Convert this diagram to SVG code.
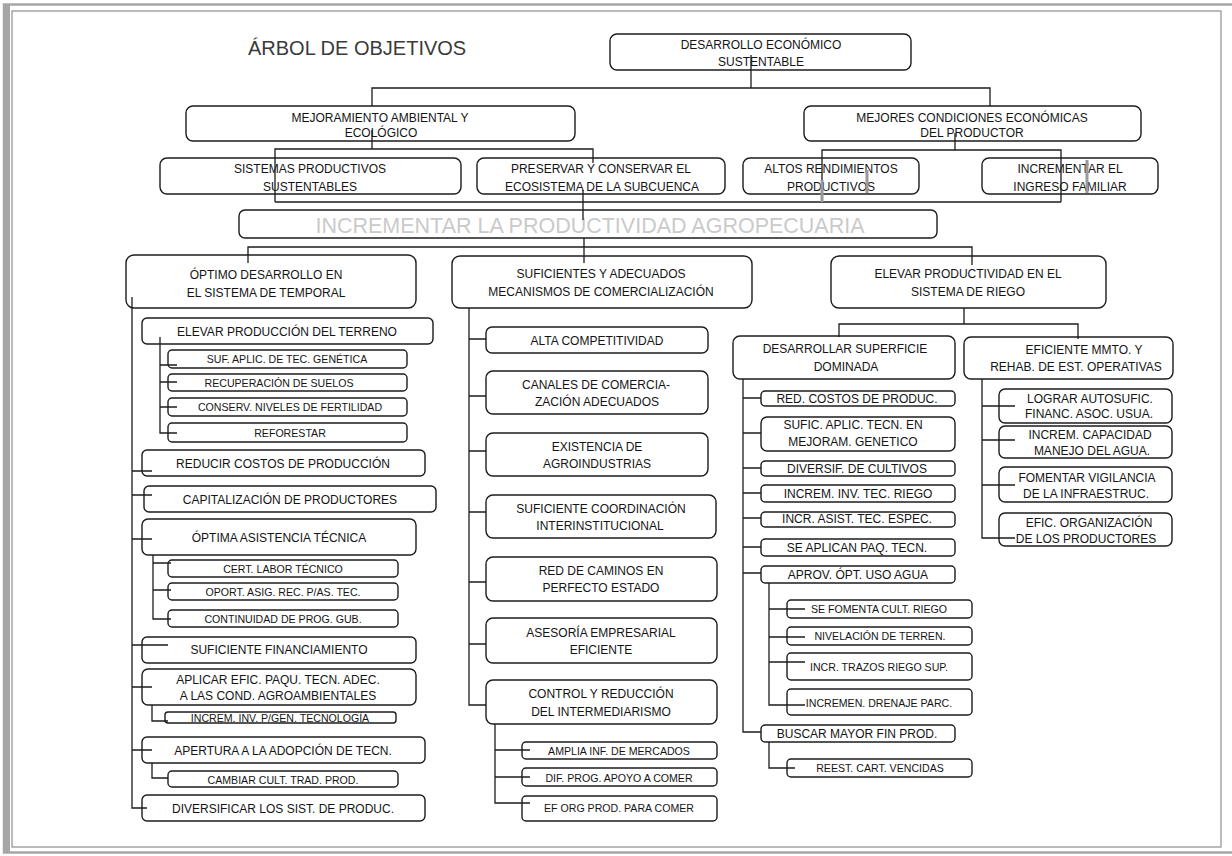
<svg xmlns="http://www.w3.org/2000/svg" width="1232" height="856" viewBox="0 0 1232 856">
<style>
.b{fill:#fff;stroke:#1c1c1c;stroke-width:1.4}
.c{fill:none;stroke:#1c1c1c;stroke-width:1.3}
.g{fill:none;stroke:#9a9a9a;stroke-width:3}
text{font-family:'Liberation Sans',Arial,sans-serif;fill:#141414;text-anchor:middle}
.t{font-size:12px}
.s{font-size:10.6px}
.title{font-size:20px;fill:#3a3a3a;text-anchor:start}
.big{font-size:21.5px;fill:#cacaca}
</style>
<rect width="1232" height="856" fill="#fff"/>
<g id="frame">
<rect x="4" y="4.5" width="1240" height="848" fill="none" stroke="#a6a6a6" stroke-width="2.5"/>
<line x1="7.5" y1="4" x2="7.5" y2="853" stroke="#a6a6a6" stroke-width="5"/>
<rect x="12" y="11" width="1209" height="836" fill="none" stroke="#8e8e8e" stroke-width="1.2"/>
</g>
<text class="title" x="248" y="55">ÁRBOL DE OBJETIVOS</text>

<g id="n0"><rect class="b" x="610" y="34" width="301" height="36" rx="7"/><text class="t" x="761" y="49">DESARROLLO ECONÓMICO</text><text class="t" x="761" y="66">SUSTENTABLE</text></g>
<g id="n1"><rect class="b" x="186" y="106" width="389" height="35" rx="7"/><text class="t" x="380" y="122">MEJORAMIENTO AMBIENTAL Y</text><text class="t" x="381" y="137">ECOLÓGICO</text></g>
<g id="n2"><rect class="b" x="804" y="106" width="337" height="35" rx="7"/><text class="t" x="972" y="122">MEJORES CONDICIONES ECONÓMICAS</text><text class="t" x="972" y="137">DEL PRODUCTOR</text></g>
<g id="n3"><rect class="b" x="160" y="158" width="301" height="36" rx="7"/><text class="t" x="310" y="173">SISTEMAS PRODUCTIVOS</text><text class="t" x="310" y="191">SUSTENTABLES</text></g>
<g id="n4"><rect class="b" x="477" y="158" width="248" height="36" rx="7"/><text class="t" x="601" y="173">PRESERVAR Y CONSERVAR EL</text><text class="t" x="602" y="191">ECOSISTEMA DE LA SUBCUENCA</text></g>
<g id="n5"><rect class="b" x="743" y="158" width="176" height="36" rx="7"/><text class="t" x="831" y="173">ALTOS RENDIMIENTOS</text><text class="t" x="831" y="191">PRODUCTIVOS</text></g>
<g id="n6"><rect class="b" x="982" y="158" width="176" height="36" rx="7"/><text class="t" x="1070" y="173">INCREMENTAR EL</text><text class="t" x="1070" y="191">INGRESO FAMILIAR</text></g>
<g id="n7"><rect class="b" x="239" y="210" width="698" height="28" rx="6"/><text class="big" x="590" y="233">INCREMENTAR LA PRODUCTIVIDAD AGROPECUARIA</text></g>

<g id="n8"><rect class="b" x="126" y="255" width="290" height="53" rx="8"/><text class="t" x="266" y="279">ÓPTIMO DESARROLLO EN</text><text class="t" x="266" y="297">EL SISTEMA DE TEMPORAL</text></g>
<g id="n9"><rect class="b" x="452" y="256" width="300" height="52" rx="8"/><text class="t" x="601" y="278">SUFICIENTES Y ADECUADOS</text><text class="t" x="601" y="296">MECANISMOS DE COMERCIALIZACIÓN</text></g>
<g id="n10"><rect class="b" x="831" y="256" width="275" height="52" rx="8"/><text class="t" x="968" y="278">ELEVAR PRODUCTIVIDAD EN EL</text><text class="t" x="968" y="296">SISTEMA DE RIEGO</text></g>

<g id="n11"><rect class="b" x="142" y="318" width="291" height="26" rx="5"/><text class="t" x="287" y="336">ELEVAR PRODUCCIÓN DEL TERRENO</text></g>
<g id="n12"><rect class="b" x="168" y="350" width="239" height="18" rx="4"/><text class="s" x="287" y="363">SUF. APLIC. DE TEC. GENÉTICA</text></g>
<g id="n13"><rect class="b" x="168" y="374" width="239" height="17" rx="4"/><text class="s" x="279" y="387">RECUPERACIÓN DE SUELOS</text></g>
<g id="n14"><rect class="b" x="168" y="398" width="239" height="18" rx="4"/><text class="s" x="290" y="411">CONSERV. NIVELES DE FERTILIDAD</text></g>
<g id="n15"><rect class="b" x="168" y="423" width="239" height="19" rx="4"/><text class="s" x="290" y="437">REFORESTAR</text></g>
<g id="n16"><rect class="b" x="142" y="450" width="283" height="26" rx="5"/><text class="t" x="283" y="468">REDUCIR COSTOS DE PRODUCCIÓN</text></g>
<g id="n17"><rect class="b" x="144" y="486" width="292" height="26" rx="5"/><text class="t" x="290" y="504">CAPITALIZACIÓN DE PRODUCTORES</text></g>
<g id="n18"><rect class="b" x="142" y="519" width="274" height="36" rx="6"/><text class="t" x="279" y="542">ÓPTIMA ASISTENCIA TÉCNICA</text></g>
<g id="n19"><rect class="b" x="168" y="560" width="230" height="17" rx="4"/><text class="s" x="283" y="573">CERT. LABOR TÉCNICO</text></g>
<g id="n20"><rect class="b" x="168" y="583" width="230" height="17" rx="4"/><text class="s" x="283" y="596">OPORT. ASIG. REC. P/AS. TEC.</text></g>
<g id="n21"><rect class="b" x="168" y="610" width="230" height="17" rx="4"/><text class="s" x="283" y="623">CONTINUIDAD DE PROG. GUB.</text></g>
<g id="n22"><rect class="b" x="142" y="637" width="274" height="26" rx="5"/><text class="t" x="279" y="654">SUFICIENTE FINANCIAMIENTO</text></g>
<g id="n23"><rect class="b" x="142" y="669" width="274" height="36" rx="6"/><text class="t" x="278" y="684">APLICAR EFIC. PAQU. TECN. ADEC.</text><text class="t" x="278" y="700">A LAS COND. AGROAMBIENTALES</text></g>
<g id="n24"><rect class="b" x="165" y="712" width="231" height="11" rx="3"/><text class="s" x="280" y="722">INCREM. INV. P/GEN. TECNOLOGÍA</text></g>
<g id="n25"><rect class="b" x="142" y="737" width="283" height="26" rx="5"/><text class="t" x="283" y="755">APERTURA A LA ADOPCIÓN DE TECN.</text></g>
<g id="n26"><rect class="b" x="168" y="771" width="230" height="16" rx="4"/><text class="s" x="283" y="784">CAMBIAR CULT. TRAD. PROD.</text></g>
<g id="n27"><rect class="b" x="142" y="795" width="283" height="26" rx="5"/><text class="t" x="283" y="813">DIVERSIFICAR LOS SIST. DE PRODUC.</text></g>

<g id="n28"><rect class="b" x="486" y="327" width="222" height="26" rx="6"/><text class="t" x="597" y="345">ALTA COMPETITIVIDAD</text></g>
<g id="n29"><rect class="b" x="486" y="371" width="222" height="43" rx="7"/><text class="t" x="596" y="389">CANALES DE COMERCIA-</text><text class="t" x="597" y="406">ZACIÓN ADECUADOS</text></g>
<g id="n30"><rect class="b" x="486" y="433" width="222" height="43" rx="7"/><text class="t" x="597" y="451">EXISTENCIA DE</text><text class="t" x="597" y="468">AGROINDUSTRIAS</text></g>
<g id="n31"><rect class="b" x="486" y="495" width="230" height="43" rx="7"/><text class="t" x="601" y="513">SUFICIENTE COORDINACIÓN</text><text class="t" x="600" y="530">INTERINSTITUCIONAL</text></g>
<g id="n32"><rect class="b" x="486" y="557" width="231" height="44" rx="7"/><text class="t" x="601" y="575">RED DE CAMINOS EN</text><text class="t" x="601" y="592">PERFECTO ESTADO</text></g>
<g id="n33"><rect class="b" x="486" y="618" width="231" height="45" rx="7"/><text class="t" x="601" y="637">ASESORÍA EMPRESARIAL</text><text class="t" x="601" y="654">EFICIENTE</text></g>
<g id="n34"><rect class="b" x="486" y="680" width="231" height="44" rx="7"/><text class="t" x="601" y="698">CONTROL Y REDUCCIÓN</text><text class="t" x="601" y="716">DEL INTERMEDIARISMO</text></g>
<g id="n35"><rect class="b" x="522" y="742" width="195" height="17" rx="4"/><text class="s" x="619" y="755">AMPLIA INF. DE MERCADOS</text></g>
<g id="n36"><rect class="b" x="522" y="768" width="195" height="18" rx="4"/><text class="s" x="619" y="782">DIF. PROG. APOYO A COMER</text></g>
<g id="n37"><rect class="b" x="522" y="796" width="195" height="25" rx="4"/><text class="s" x="619" y="812">EF ORG PROD. PARA COMER</text></g>

<g id="n38"><rect class="b" x="733" y="336" width="222" height="43" rx="7"/><text class="t" x="845" y="353">DESARROLLAR SUPERFICIE</text><text class="t" x="846" y="371">DOMINADA</text></g>
<g id="n39"><rect class="b" x="964" y="337" width="209" height="42" rx="7"/><text class="t" x="1084" y="354">EFICIENTE MMTO. Y</text><text class="t" x="1076" y="371">REHAB. DE EST. OPERATIVAS</text></g>
<g id="n40"><rect class="b" x="761" y="391" width="194" height="15" rx="4"/><text class="t" x="857" y="403">RED. COSTOS DE PRODUC.</text></g>
<g id="n41"><rect class="b" x="761" y="417" width="194" height="34" rx="6"/><text class="t" x="853" y="429">SUFIC. APLIC. TECN. EN</text><text class="t" x="853" y="446">MEJORAM. GENETICO</text></g>
<g id="n42"><rect class="b" x="761" y="461" width="194" height="15" rx="4"/><text class="t" x="857" y="473">DIVERSIF. DE CULTIVOS</text></g>
<g id="n43"><rect class="b" x="761" y="485" width="194" height="17" rx="4"/><text class="t" x="858" y="498">INCREM. INV. TEC. RIEGO</text></g>
<g id="n44"><rect class="b" x="761" y="512" width="194" height="15" rx="4"/><text class="t" x="857" y="523">INCR. ASIST. TEC. ESPEC.</text></g>
<g id="n45"><rect class="b" x="761" y="539" width="194" height="17" rx="4"/><text class="t" x="857" y="552">SE APLICAN PAQ. TECN.</text></g>
<g id="n46"><rect class="b" x="761" y="566" width="194" height="17" rx="4"/><text class="t" x="858" y="579">APROV. ÓPT. USO AGUA</text></g>
<g id="n47"><rect class="b" x="787" y="600" width="185" height="18" rx="4"/><text class="s" x="879" y="613">SE FOMENTA CULT. RIEGO</text></g>
<g id="n48"><rect class="b" x="787" y="627" width="185" height="18" rx="4"/><text class="s" x="880" y="640">NIVELACIÓN DE TERREN.</text></g>
<g id="n49"><rect class="b" x="787" y="653" width="185" height="27" rx="4"/><text class="s" x="879" y="671">INCR. TRAZOS RIEGO SUP.</text></g>
<g id="n50"><rect class="b" x="787" y="689" width="185" height="26" rx="4"/><text class="s" x="879" y="707">INCREMEN. DRENAJE PARC.</text></g>
<g id="n51"><rect class="b" x="761" y="725" width="194" height="17" rx="4"/><text class="t" x="857" y="738">BUSCAR MAYOR FIN PROD.</text></g>
<g id="n52"><rect class="b" x="787" y="759" width="185" height="18" rx="4"/><text class="s" x="880" y="772">REEST. CART. VENCIDAS</text></g>
<g id="n53"><rect class="b" x="999" y="389" width="173" height="34" rx="6"/><text class="t" x="1090" y="403">LOGRAR AUTOSUFIC.</text><text class="t" x="1089" y="418">FINANC. ASOC. USUA.</text></g>
<g id="n54"><rect class="b" x="999" y="426" width="173" height="32" rx="6"/><text class="t" x="1090" y="439">INCREM. CAPACIDAD</text><text class="t" x="1092" y="455">MANEJO DEL AGUA.</text></g>
<g id="n55"><rect class="b" x="999" y="467" width="173" height="35" rx="6"/><text class="t" x="1087" y="482">FOMENTAR VIGILANCIA</text><text class="t" x="1086" y="498">DE LA INFRAESTRUC.</text></g>
<g id="n56"><rect class="b" x="999" y="513" width="173" height="33" rx="6"/><text class="t" x="1089" y="527">EFIC. ORGANIZACIÓN</text><text class="t" x="1086" y="543">DE LOS PRODUCTORES</text></g>

<g id="connectors">
<path class="c" d="M751 55V88M372 106V88H990V106"/>
<path class="c" d="M372 130V149M275 202V149H593V163"/>
<path class="c" d="M955 133V150M822 202V150H1061V202M275 202H1061"/>
<path class="g" d="M822 180V202M867 170V193M1087 160V193"/>
<path class="c" d="M583 190V220M584 238V263M248 263V247H972V265"/>
<path class="c" d="M964 308V324M839 337V324H1078V339"/>
<path class="c" d="M132 297V808H147M132 471H152M132 495H152M132 539H152M132 645H168M132 687H152M132 750H152"/>
<path class="c" d="M160 337V433H177M160 365H177M160 382H177M160 407H177"/>
<path class="c" d="M153 555V619H171M153 563H171M153 590H171"/>
<path class="c" d="M152 705V721H168M152 763V778H168"/>
<path class="c" d="M469 308V705H486M469 339H486M469 396H486M469 451H486M469 512H486M469 582H486M469 644H486"/>
<path class="c" d="M495 724V803H530M495 750H530M495 777H530"/>
<path class="c" d="M743 379V732H761M743 398H761M743 433H761M743 468H761M743 493H761M743 518H761M743 547H761M743 573H761"/>
<path class="c" d="M769 583V705H805M769 609H805M769 637H805M769 662H805"/>
<path class="c" d="M769 742V768H795"/>
<path class="c" d="M982 379V538H1015M982 406H1015M982 440H1015M982 485H1015"/>
</g>
</svg>
